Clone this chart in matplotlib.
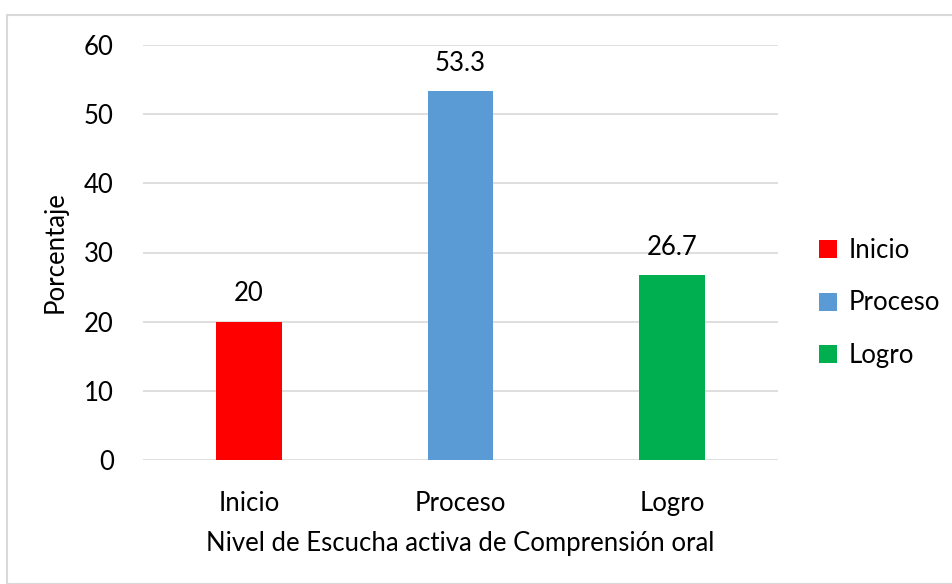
import matplotlib
matplotlib.use("Agg")
import matplotlib.pyplot as plt
from matplotlib.patches import Patch, Rectangle

categories = ["Inicio", "Proceso", "Logro"]
values = [20, 53.3, 26.7]
labels = ["20", "53.3", "26.7"]
colors = ["#FF0000", "#5B9BD5", "#00B050"]
yticks = [0, 10, 20, 30, 40, 50, 60]

plt.rcParams['font.family'] = ['Lato', 'DejaVu Sans']
FS = 18.5

fig = plt.figure(figsize=(9.53, 5.84), dpi=100)
ax = fig.add_axes([143/953, 1-460/584, (778-143)/953, (460-45)/584])

x = range(len(categories))
bars = ax.bar(x, values, width=0.31, color=colors, zorder=3)
for b, lab in zip(bars, labels):
    ax.text(b.get_x() + b.get_width()/2, b.get_height() + 2.2, lab,
            ha='center', va='bottom', fontsize=FS, color='#000000')

ax.set_xlim(-0.5, 2.5)
ax.set_ylim(0, 60)
ax.set_yticks(yticks)
ax.set_yticklabels([str(t) for t in yticks], fontsize=FS)
ax.set_xticks(list(x))
ax.set_xticklabels(categories, fontsize=FS)
ax.tick_params(axis='both', length=0)
ax.tick_params(axis='y', pad=21)
ax.tick_params(axis='x', pad=22)
ax.grid(axis='y', color='#D9D9D9', linewidth=1.2, zorder=0)
for s in ax.spines.values():
    s.set_visible(False)
ax.set_ylabel("Porcentaje", fontsize=FS, labelpad=12)
ax.set_xlabel("Nivel de Escucha activa de Comprensión oral", fontsize=FS, labelpad=11)

handles = [Patch(facecolor=c, label=n) for c, n in zip(colors, categories)]
fig.legend(handles=handles, loc='center left', bbox_to_anchor=(796/953, 1-303/584),
           frameon=False, fontsize=FS, handlelength=0.7, handleheight=0.7,
           handletextpad=0.45, labelspacing=1.07)

fig.patches.append(Rectangle((7/953, 0), 1, 1-15/584, transform=fig.transFigure,
                             fill=False, edgecolor='#D9D9D9', linewidth=1.5))

fig.savefig("out.png", dpi=100)
